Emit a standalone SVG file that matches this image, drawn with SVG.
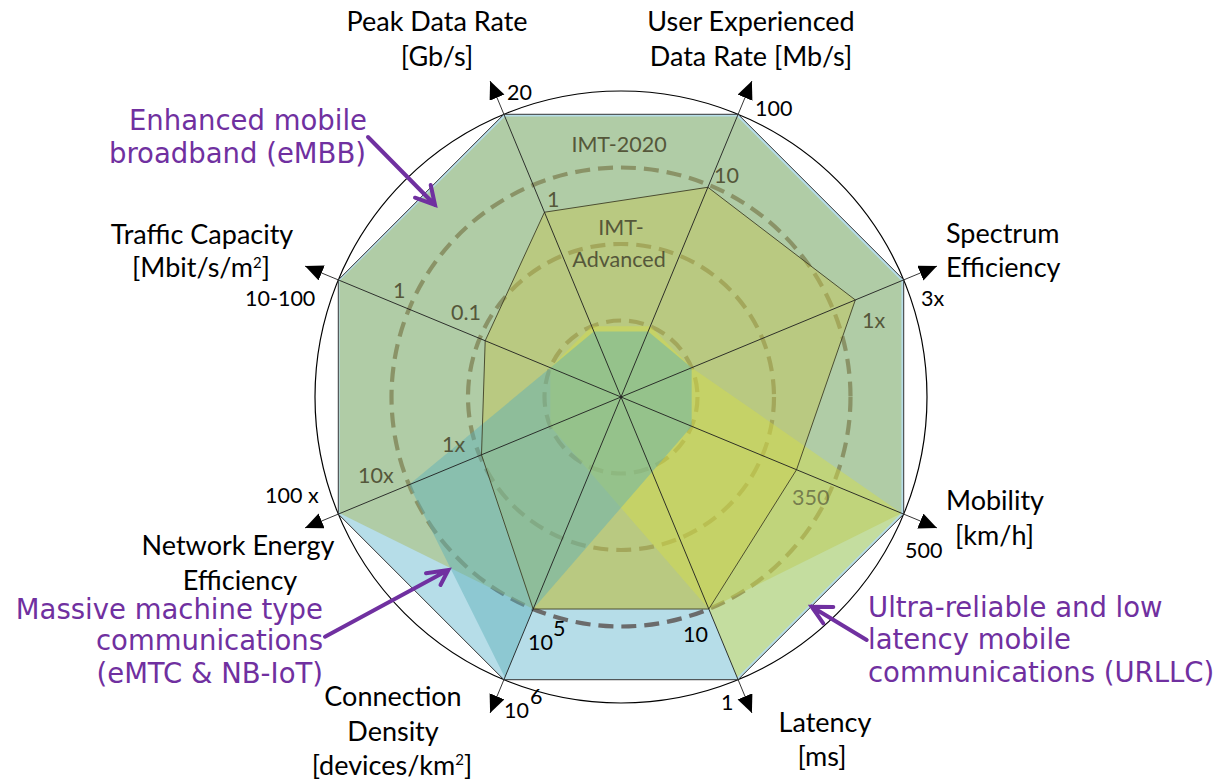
<svg xmlns="http://www.w3.org/2000/svg" width="1226" height="783" viewBox="0 0 1226 783">
<defs>
<style>
.lbl{font-family:Lato,"Liberation Sans",sans-serif;font-size:27px;fill:#000}
.sc{font-family:Lato,"Liberation Sans",sans-serif;font-size:21.5px;fill:#000}
.ol{font-family:Lato,"Liberation Sans",sans-serif;font-size:21.5px;fill:#55573a}
.pu{font-family:"DejaVu Sans",Verdana,sans-serif;font-size:27.5px;fill:#7030a0}
.axis{stroke:#1e1e1e;stroke-width:0.9;fill:none}
.dash{fill:none;stroke:#6b6b6b;stroke-width:4.2;stroke-dasharray:15 8}
.parrow{fill:none;stroke:#7030a0;stroke-width:4;stroke-linecap:round;stroke-linejoin:miter}
</style>
<marker id="ah" markerUnits="userSpaceOnUse" markerWidth="20" markerHeight="18" refX="18" refY="8" orient="auto">
<path d="M0,0 L18,8 L0,16 z" fill="#000"/>
</marker>
</defs>
<rect width="1226" height="783" fill="#fff"/>

<g id="outer-circle">
<circle cx="621" cy="397" r="306" fill="none" stroke="#000" stroke-width="1.2"/>
</g>

<g id="imt2020-octagon">
<polygon points="503.90,114.29 738.10,114.29 903.71,279.90 903.71,514.10 738.10,679.71 503.90,679.71 338.29,514.10 338.29,279.90" fill="#b6dde8" stroke="#333" stroke-width="1"/>
</g>

<g id="dashed-circles">
<circle class="dash" cx="621" cy="397" r="76.5"/>
<circle class="dash" cx="621" cy="397" r="153"/>
<circle class="dash" cx="621" cy="397" r="229.5"/>
</g>

<g id="scenario-eMBB">
<polygon points="504.86,116.60 737.14,116.60 901.40,280.86 901.40,513.14 708.82,609.03 533.18,609.03 339.60,513.14 339.60,280.86" fill="#aabc64" fill-opacity="0.5"/>
</g>

<g id="imt-advanced-fill">
<polygon points="544.46,212.22 707.87,187.28 855.30,299.95 796.54,469.71 708.82,609.03 533.18,609.03 481.49,454.79 485.19,340.75" fill="#c9c54c" fill-opacity="0.4"/>
</g>

<g id="scenario-URLLC">
<polygon points="591.73,326.32 650.27,326.32 691.68,367.73 901.40,513.14 737.14,677.40 708.82,609.03 550.32,426.27 550.32,367.73" fill="#d4de46" fill-opacity="0.45"/>
</g>

<g id="scenario-mMTC">
<polygon points="593.83,331.40 648.17,331.40 691.68,367.73 691.68,426.27 533.18,609.03 504.86,677.40 408.97,484.82 550.32,367.73" fill="#5cb0b9" fill-opacity="0.45"/>
</g>

<g id="imt-advanced-outline">
<polygon points="544.46,212.22 707.87,187.28 855.30,299.95 796.54,469.71 708.82,609.03 533.18,609.03 481.49,454.79 485.19,340.75" fill="none" stroke="#3f4026" stroke-width="0.9"/>
</g>

<g id="axes">
<line class="axis" x1="621" y1="397" x2="490.12" y2="81.03" marker-end="url(#ah)"/>
<line class="axis" x1="621" y1="397" x2="751.88" y2="81.03" marker-end="url(#ah)"/>
<line class="axis" x1="621" y1="397" x2="936.97" y2="266.12" marker-end="url(#ah)"/>
<line class="axis" x1="621" y1="397" x2="936.97" y2="527.88" marker-end="url(#ah)"/>
<line class="axis" x1="621" y1="397" x2="751.88" y2="712.97" marker-end="url(#ah)"/>
<line class="axis" x1="621" y1="397" x2="490.12" y2="712.97" marker-end="url(#ah)"/>
<line class="axis" x1="621" y1="397" x2="305.03" y2="527.88" marker-end="url(#ah)"/>
<line class="axis" x1="621" y1="397" x2="305.03" y2="266.12" marker-end="url(#ah)"/>
</g>

<g id="connectors">
<path class="parrow" d="M368,137 L435,205 M415,197.7 L435,205 L430.7,185"/>
<path class="parrow" d="M325,636.7 L448.3,570 M426,573.3 L448.3,570 L440.5,585"/>
<path class="parrow" d="M866.7,640 L811.7,606.7 M833.3,607 L811.7,606.7 L823.3,623.3"/>
</g>

<g id="node-peak-data-rate">
<text class="lbl" x="437" y="31" text-anchor="middle">Peak Data Rate</text>
<text class="lbl" x="437" y="66" text-anchor="middle">[Gb/s]</text>
<text class="sc" x="507" y="100">20</text>
<text class="ol" x="547" y="207">1</text>
</g>
<g id="node-user-data-rate">
<text class="lbl" x="751" y="31" text-anchor="middle">User Experienced</text>
<text class="lbl" x="751" y="66" text-anchor="middle">Data Rate [Mb/s]</text>
<text class="sc" x="755" y="116">100</text>
<text class="ol" x="714" y="183">10</text>
</g>
<g id="node-spectrum-efficiency">
<text class="lbl" x="946" y="243">Spectrum</text>
<text class="lbl" x="946" y="277">Efficiency</text>
<text class="sc" x="921" y="306">3x</text>
<text class="ol" x="862" y="328">1x</text>
</g>
<g id="node-mobility">
<text class="lbl" x="946" y="510">Mobility</text>
<text class="lbl" x="955" y="545">[km/h]</text>
<text class="sc" x="905" y="558">500</text>
<text class="ol" x="792" y="505" fill-opacity="0.7">350</text>
</g>
<g id="node-latency">
<text class="lbl" x="825" y="732" text-anchor="middle">Latency</text>
<text class="lbl" x="822" y="766" text-anchor="middle">[ms]</text>
<text class="sc" x="721" y="710">1</text>
<text class="sc" x="683" y="642" fill="#1a1a1a">10</text>
</g>
<g id="node-connection-density">
<text class="lbl" x="393" y="706" text-anchor="middle">Connection</text>
<text class="lbl" x="393" y="741" text-anchor="middle">Density</text>
<text class="lbl" x="392" y="775" text-anchor="middle">[devices/km<tspan font-size="15" dy="-10">2</tspan><tspan dy="10">]</tspan></text>
<text class="sc" x="504" y="718">10</text>
<text class="sc" x="530" y="704" font-size="16">6</text>
<text class="sc" x="528" y="650" fill="#1a1a1a">10</text>
<text class="sc" x="553" y="636" font-size="16" fill="#1a1a1a">5</text>
</g>
<g id="node-network-energy">
<text class="lbl" x="238" y="555" text-anchor="middle">Network Energy</text>
<text class="lbl" x="240" y="590" text-anchor="middle">Efficiency</text>
<text class="sc" x="265" y="503">100 x</text>
<text class="ol" x="358" y="483">10x</text>
<text class="ol" x="442" y="452">1x</text>
</g>
<g id="node-traffic-capacity">
<text class="lbl" x="202" y="244" text-anchor="middle">Traffic Capacity</text>
<text class="lbl" x="201" y="277" text-anchor="middle">[Mbit/s/m<tspan font-size="15" dy="-9">2</tspan><tspan dy="9">]</tspan></text>
<text class="sc" x="245" y="306">10-100</text>
<text class="ol" x="393" y="298">1</text>
<text class="ol" x="451" y="320">0.1</text>
</g>
<g id="series-labels">
<text class="ol" x="619" y="152" text-anchor="middle" font-size="24.5">IMT-2020</text>
<text class="ol" x="621" y="235" text-anchor="middle" font-size="24.5">IMT-</text>
<text class="ol" x="619" y="267" text-anchor="middle" font-size="24.5">Advanced</text>
</g>
<g id="node-eMBB">
<text class="pu" x="367" y="130" text-anchor="end">Enhanced mobile</text>
<text class="pu" x="366" y="163" text-anchor="end">broadband (eMBB)</text>
</g>
<g id="node-mMTC">
<text class="pu" x="323" y="619" text-anchor="end">Massive machine type</text>
<text class="pu" x="323" y="650" text-anchor="end">communications</text>
<text class="pu" x="323" y="683" text-anchor="end">(eMTC &amp; NB-IoT)</text>
</g>
<g id="node-URLLC">
<text class="pu" x="868" y="617">Ultra-reliable and low</text>
<text class="pu" x="868" y="649">latency mobile</text>
<text class="pu" x="868" y="682">communications (URLLC)</text>
</g>
</svg>
